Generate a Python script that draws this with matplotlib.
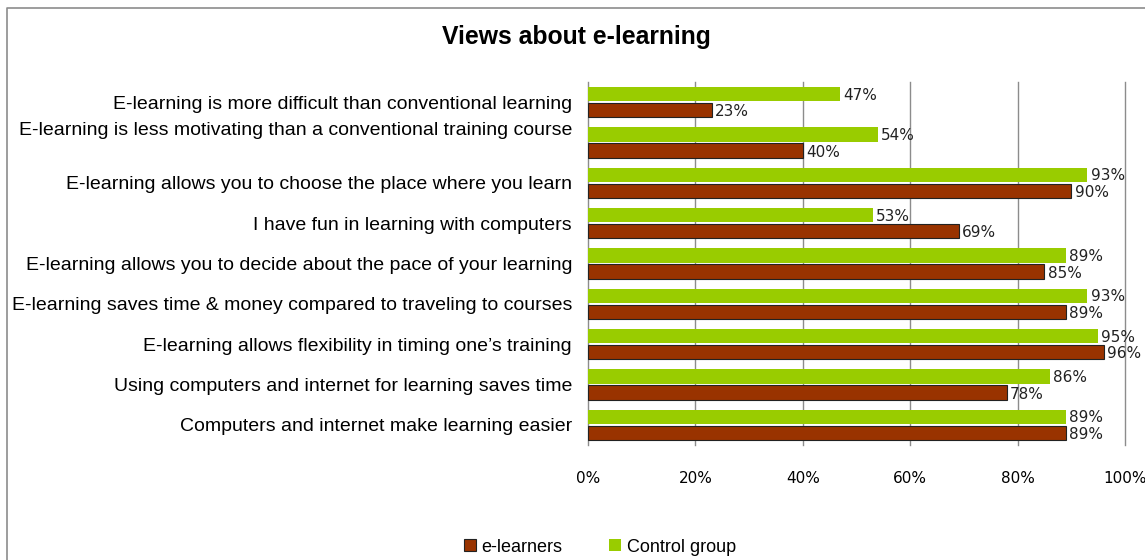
import numpy as np
import matplotlib
matplotlib.use("Agg")
import matplotlib.pyplot as plt
from matplotlib.lines import Line2D
from matplotlib.patches import Patch
import matplotlib.transforms as mtransforms

statements = [
    "E-learning is more difficult than conventional learning",
    "E-learning is less motivating than a conventional training course",
    "E-learning allows you to choose the place where you learn",
    "I have fun in learning with computers",
    "E-learning allows you to decide about the pace of your learning",
    "E-learning saves time & money compared to traveling to courses",
    "E-learning allows flexibility in timing one\u2019s training",
    "Using computers and internet for learning saves time",
    "Computers and internet make learning easier",
]
control_group = [47, 54, 93, 53, 89, 93, 95, 86, 89]
e_learners = [23, 40, 90, 69, 85, 89, 96, 78, 89]
x_ticks = [0, 20, 40, 60, 80, 100]

green = "#99CC00"
brown = "#993300"
grid_col = "#8C8C8C"
label_font = "Liberation Sans"
num_font = "DejaVu Sans"

fig = plt.figure(figsize=(11.45, 5.6), dpi=100)
ax = fig.add_axes([588 / 1145, 1 - 445 / 560, (1125 - 588) / 1145, (445 - 82) / 560])

y = np.arange(len(statements))
h = 0.36
ax.barh(y - 0.2, control_group, height=h, color=green, zorder=3)
ax.barh(y + 0.2, e_learners, height=h, color=brown, edgecolor="#222222",
        linewidth=0.8, zorder=3)

for yi, v in zip(y, control_group):
    ax.text(v + 0.6, yi - 0.17, f"{v}%", va="center", ha="left",
            fontsize=11, family=num_font, color="#222222")
for yi, v in zip(y, e_learners):
    ax.text(v + 0.6, yi + 0.24, f"{v}%", va="center", ha="left",
            fontsize=11, family=num_font, color="#222222")

ax.set_ylim(len(statements) - 0.5, -0.5)
ax.set_xlim(0, 100)
ax.set_xticks(x_ticks)
ax.set_xticklabels([f"{t}%" for t in x_ticks], family=num_font, fontsize=11)
ax.tick_params(axis="x", length=0, pad=19)
ax.set_yticks(y)
ax.set_yticklabels(statements, family=label_font, fontsize=14)
ax.tick_params(axis="y", length=0, pad=11.5)

# second label sits a bit higher in the original
lbl = ax.get_yticklabels()[1]
lbl.set_transform(lbl.get_transform() +
                  mtransforms.ScaledTranslation(0, 14 / 100, fig.dpi_scale_trans))

for t in x_ticks[1:]:
    ax.axvline(t, color=grid_col, linewidth=1, zorder=1, clip_on=False)
for s in ["top", "right", "bottom"]:
    ax.spines[s].set_visible(False)
ax.spines["left"].set_color(grid_col)
ax.spines["left"].set_linewidth(1)

fig.text(576 / 1145, 1 - 37 / 560, "Views about e-learning", ha="center", va="center",
         fontsize=17.8, fontweight="bold", family=label_font)

handles = [Patch(facecolor=brown, edgecolor="#222222", linewidth=0.8),
           Patch(facecolor=green)]
fig.legend(handles, ["e-learners", "Control group"], loc="center",
           bbox_to_anchor=(600 / 1145, 1 - 547 / 560), ncol=2, frameon=False,
           prop={"family": label_font, "size": 13}, handlelength=0.65,
           handleheight=0.65, handletextpad=0.3, columnspacing=2.6,
           borderpad=0, borderaxespad=0)

# outer chart border
fig.add_artist(Line2D([7 / 1145, 7 / 1145, 1.0], [0.0, 1 - 8 / 560, 1 - 8 / 560],
                      transform=fig.transFigure, color="#8C8C8C", linewidth=1.2))

fig.savefig("out.png", dpi=100)
